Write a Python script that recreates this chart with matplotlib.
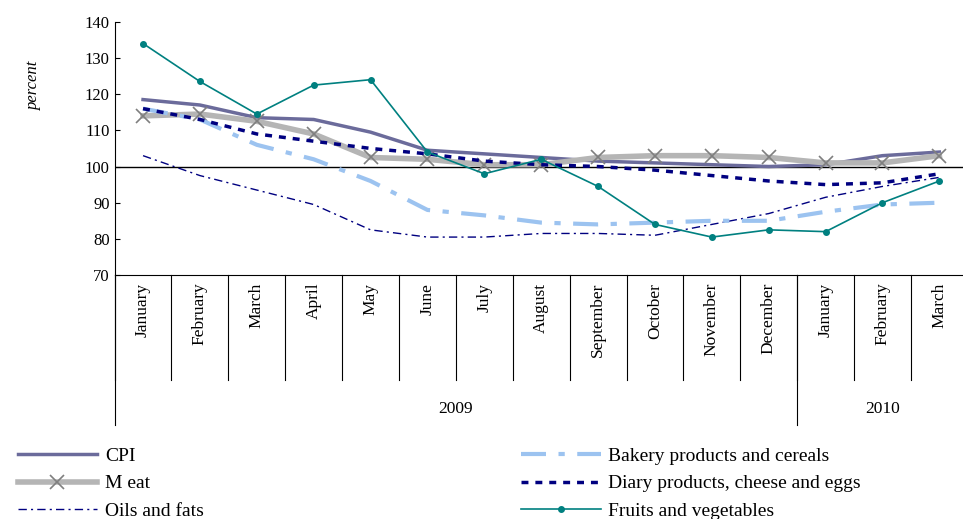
import numpy as np
import matplotlib.pyplot as plt

plt.rcParams['font.family'] = ['Liberation Serif', 'DejaVu Serif']

months = ['January', 'February', 'March', 'April', 'May', 'June', 'July', 'August',
          'September', 'October', 'November', 'December', 'January', 'February', 'March']
years = ['2009', '2010']
year_len = [12, 3]

cpi = [118.5, 117, 113.5, 113, 109.5, 104.5, 103.5, 102.5, 101.5, 101, 100.5, 100, 100.5, 103, 104]
meat = [114, 114.5, 112.5, 109, 102.5, 102, 100.5, 100.5, 102.5, 103, 103, 102.5, 101, 101, 103]
bakery = [116, 113, 106, 102, 96, 88, 86.5, 84.5, 84, 84.5, 85, 85, 87.5, 89.5, 90]
dairy = [116, 113, 109, 107, 105, 103.5, 101.5, 100.5, 100, 99, 97.5, 96, 95, 95.5, 98]
oils = [103, 97.5, 93.5, 89.5, 82.5, 80.5, 80.5, 81.5, 81.5, 81, 84, 87, 91.5, 94.5, 97]
fruits = [134, 123.5, 114.5, 122.5, 124, 104, 98, 102, 94.5, 84, 80.5, 82.5, 82, 90, 96]

fig = plt.figure(figsize=(9.63, 5.19), dpi=100)
ax = fig.add_axes([0.119, 0.47, 0.886, 0.488])
x = np.arange(len(months)) + 0.5

l_cpi, = ax.plot(x, cpi, color='#6b6b9b', lw=2.5)
l_meat, = ax.plot(x, meat, color='#b5b5b5', lw=4, marker='x', ms=10, mec='#7f7f7f', mew=1.2)
l_oils, = ax.plot(x, oils, color='#000080', lw=1, dashes=(6, 3, 1.5, 3))
l_bak, = ax.plot(x, bakery, color='#9cc3f0', lw=3, dashes=(6, 3, 1.5, 3))
l_dairy, = ax.plot(x, dairy, color='#000080', lw=2.5, dashes=(2, 2))
l_fr, = ax.plot(x, fruits, color='#008080', lw=1.2, marker='o', ms=4)
ax.axhline(100, color='black', lw=1, zorder=0)

ax.set_xlim(0, 15)
ax.set_ylim(70, 140)
ax.set_yticks(range(70, 141, 10))
ax.tick_params(axis='y', labelsize=12, direction='in')
ax.set_ylabel('percent', style='italic', fontsize=12)
ax.yaxis.set_label_coords(-0.085, 0.75)
for s in ['top', 'right']:
    ax.spines[s].set_visible(False)
ax.set_xticks([])

tr = ax.get_xaxis_transform()
for i in range(len(months) + 1):
    ax.plot([i, i], [0, -0.415], color='black', lw=0.8, transform=tr, clip_on=False)
    if i < len(months):
        ax.text(i + 0.5, -0.03, months[i], rotation=90, ha='center', va='top',
                fontsize=12.5, transform=tr)
start = 0
for y, n in zip(years, year_len):
    ax.plot([start, start], [0, -0.593], color='black', lw=0.8, transform=tr, clip_on=False)
    ax.text(start + n / 2, -0.53, y, ha='center', va='center', fontsize=12.5, transform=tr)
    start += n

fig.legend([l_cpi, l_meat, l_oils, l_bak, l_dairy, l_fr],
           ['CPI', 'M eat', 'Oils and fats', 'Bakery products and cereals',
            'Diary products, cheese and eggs', 'Fruits and vegetables'],
           ncol=2, loc='lower left', bbox_to_anchor=(0.0, -0.035), frameon=False,
           fontsize=14, handlelength=4.1, handletextpad=0.4, columnspacing=16.3,
           labelspacing=0.5)

fig.savefig('out.png', dpi=100)
